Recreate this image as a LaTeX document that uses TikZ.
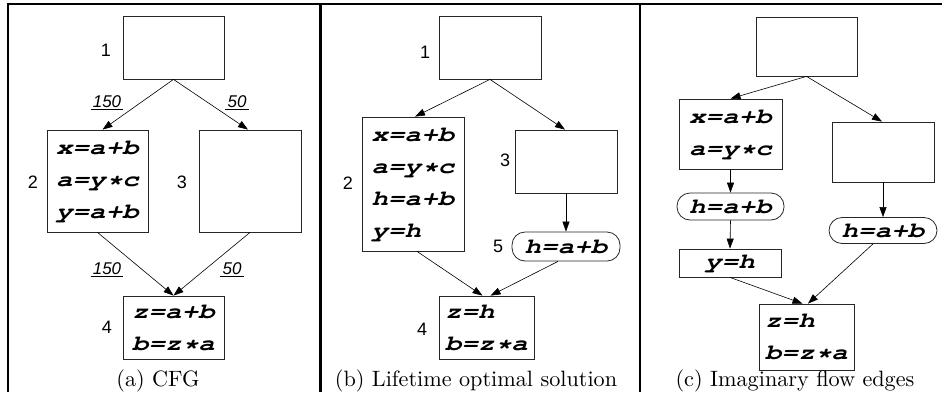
\documentclass[tikz,border=0pt]{standalone}
\usepackage{fontspec}
\usepackage{graphicx}
\newfontfamily\sansf{Liberation Sans}
\newcommand{\codef}{\fontencoding{T1}\fontfamily{pcr}\fontseries{b}\fontshape{sl}}
\newcommand{\cl}[1]{\scalebox{1.28}[1]{#1}}
\newcommand{\capt}[1]{\scalebox{2.22}{\fontsize{10}{12}\selectfont #1}}
\usetikzlibrary{arrows.meta}
\begin{document}
\begin{tikzpicture}[x=1pt,y=-1pt,
  blk/.style={draw=black!85, line width=0.8pt, inner sep=0pt, align=left,
    font=\codef\fontsize{21.5}{32}\selectfont},
  rnd/.style={blk, rounded corners=13pt},
  num/.style={inner sep=0pt, font=\sansf\fontsize{18}{20}\selectfont},
  elab/.style={inner xsep=2pt, inner ysep=1pt, text depth=0pt, font=\sansf\itshape\fontsize{17}{19}\selectfont},
  ulline/.style={line width=0.8pt},
  arr/.style={-{Triangle[length=10pt,width=7pt]}, line width=0.6pt},
  frameline/.style={line width=2.2pt},
  captxt/.style={inner sep=0pt}
]
\useasboundingbox (0,0) rectangle (942,392);
% frame
\coordinate (ftl) at (8,4.3);
\coordinate (ftr) at (942,4.3);
\coordinate (fbl) at (8,392);
\coordinate (d1t) at (320.5,4.3);
\coordinate (d1b) at (320.5,392);
\coordinate (d2t) at (640.3,4.3);
\coordinate (d2b) at (640.3,392);
\draw[frameline] (fbl) -- (ftl) -- (ftr);
\draw[frameline] (d1t) -- (d1b);
\draw[frameline] (d2t) -- (d2b);

% ---------- panel a ----------
\node[blk, minimum width=101pt, minimum height=63pt] (a1) at (173.5,47.5) {};
\node[blk, minimum width=101pt, minimum height=102pt] (a2) at (97.5,181) {\cl{x=a+b}\\\cl{a=y*c}\\\cl{y=a+b}};
\node[blk, minimum width=102pt, minimum height=102pt] (a3) at (250,181) {};
\node[blk, minimum width=101pt, minimum height=63pt] (a4) at (173.5,327.5) {\cl{z=a+b}\\\cl{b=z*a}};
\node[num] (an1) at (106,50) {1};
\node[num] (an2) at (33,182) {2};
\node[num] (an3) at (182,182) {3};
\node[num] (an4) at (107,327) {4};
\draw[arr] (a1.south) -- ([xshift=5pt]a2.north);
\draw[arr] (a1.south) -- ([xshift=-2pt]a3.north);
\draw[arr] (a2.south) -- (a4.north);
\draw[arr] (a3.south) -- (a4.north);
\node[elab] (e1) at (107,102) {150};
\node[elab] (e2) at (237,102) {50};
\node[elab] (e3) at (107,269) {150};
\node[elab] (e4) at (232,269) {50};
\draw[ulline] (e1.south west) -- (e1.south east);
\draw[ulline] (e2.south west) -- (e2.south east);
\draw[ulline] (e3.south west) -- (e3.south east);
\draw[ulline] (e4.south west) -- (e4.south east);
\node[captxt] (capa) at (158,381) {\capt{(a) CFG}};

% ---------- panel b ----------
\node[blk, minimum width=102pt, minimum height=63pt] (b1) at (490,47.5) {};
\node[blk, minimum width=102pt, minimum height=134pt] (b2) at (413,184) {\cl{x=a+b}\\\cl{a=y*c}\\\cl{h=a+b}\\\cl{y=h}};
\node[blk, minimum width=102pt, minimum height=63pt] (b3) at (566,161.5) {};
\node[rnd, minimum width=108pt, minimum height=29pt] (b5) at (566,246.5) {\cl{h=a+b}};
\node[blk, minimum width=95pt, minimum height=63pt] (b4) at (486.5,327.5) {\cl{z=h}\\\cl{b=z*a}};
\node[num] (bn1) at (425,52) {1};
\node[num] (bn2) at (348,183) {2};
\node[num] (bn3) at (505,160) {3};
\node[num] (bn5) at (498,246) {5};
\node[num] (bn4) at (422,329) {4};
\draw[arr] (b1.south) -- ([xshift=2pt]b2.north);
\draw[arr] (b1.south) -- ([xshift=-1pt]b3.north);
\draw[arr] (b3.south) -- (b5.north);
\draw[arr] ([xshift=4pt]b2.south) -- ([xshift=-4pt]b4.north);
\draw[arr] ([xshift=-8pt]b5.south) -- ([xshift=4pt]b4.north);
\node[captxt] (capb) at (476,381) {\capt{(b) Lifetime optimal solution}};

% ---------- panel c ----------
\node[blk, minimum width=101pt, minimum height=59pt] (c1) at (806.5,46.5) {};
\node[blk, minimum width=103pt, minimum height=70pt] (c2) at (730.5,134) {\cl{x=a+b}\\\cl{a=y*c}};
\node[blk, minimum width=102pt, minimum height=60pt] (c3) at (883,152) {};
\node[rnd, minimum width=107pt, minimum height=27pt] (c6) at (730.5,206.5) {\cl{h=a+b}};
\node[rnd, minimum width=108pt, minimum height=26pt] (c7) at (883,230.5) {\cl{h=a+b}};
\node[blk, minimum width=102pt, minimum height=28pt] (c5) at (730,263) {\cl{y=h}};
\node[blk, minimum width=95pt, minimum height=66pt] (c4) at (806.5,337) {\cl{z=h}\\\cl{b=z*a}};
\draw[arr] (c1.south) -- (c2.north);
\draw[arr] (c1.south) -- ([xshift=-1pt]c3.north);
\draw[arr] (c2.south) -- (c6.north);
\draw[arr] (c6.south) -- (c5.north);
\draw[arr] (c3.south) -- (c7.north);
\draw[arr] (c5.south) -- ([xshift=-4pt]c4.north);
\draw[arr] ([xshift=-10pt]c7.south) -- ([xshift=1.5pt]c4.north);
\node[captxt] (capc) at (795,381) {\capt{(c) Imaginary flow edges}};
\end{tikzpicture}
\end{document}
